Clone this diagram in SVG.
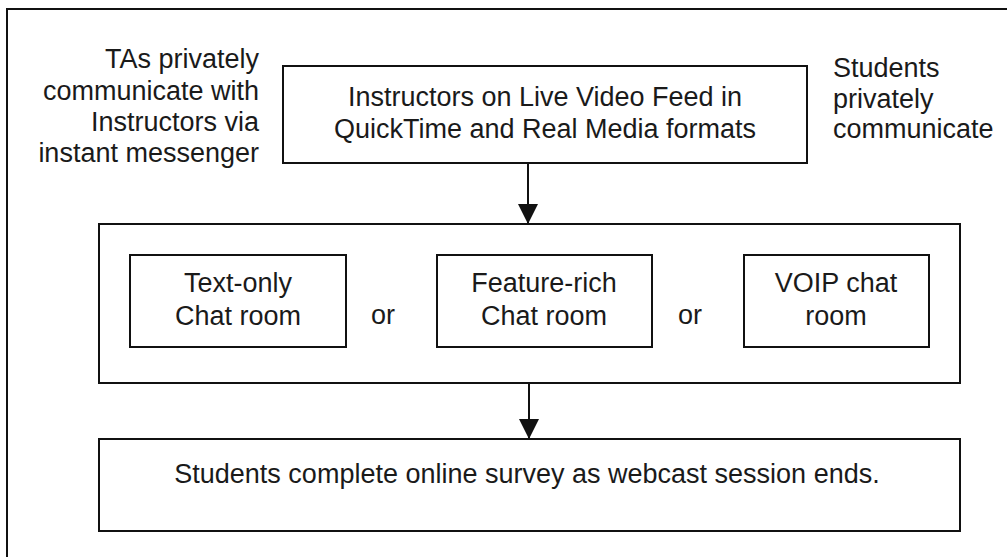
<svg xmlns="http://www.w3.org/2000/svg" width="1007" height="559" viewBox="0 0 1007 559">
<style>
.box{fill:#fff;stroke:#111;stroke-width:2}
.t{font-family:"Liberation Sans",Arial,sans-serif;font-size:27px;fill:#1a1a1a}
.c{text-anchor:middle}
.r{text-anchor:end}
.conn{stroke:#111;stroke-width:2;fill:none}
</style>
<defs>
<marker id="ah" markerUnits="userSpaceOnUse" markerWidth="20" markerHeight="20" refX="20" refY="10" orient="auto">
<path d="M0,0 L20,10 L0,20 Z" fill="#111"/>
</marker>
</defs>
<rect width="1007" height="559" fill="#fff"/>
<g id="frame"><path d="M7,557 L7,9 L1007,9" class="conn"/></g>
<g id="tas-note">
<text class="t r" x="259" y="68">TAs privately</text>
<text class="t r" x="259" y="100">communicate with</text>
<text class="t r" x="259" y="131">Instructors via</text>
<text class="t r" x="259" y="162">instant messenger</text>
</g>
<g id="students-note">
<text class="t" x="833" y="77">Students</text>
<text class="t" x="833" y="108">privately</text>
<text class="t" x="833" y="138">communicate</text>
</g>
<g id="video">
<rect class="box" x="283" y="66" width="524" height="97"/>
<text class="t c" x="545" y="106">Instructors on Live Video Feed in</text>
<text class="t c" x="545" y="138">QuickTime and Real Media formats</text>
</g>
<g id="chat-group">
<rect class="box" x="99" y="224" width="861" height="159"/>
</g>
<g id="text-only">
<rect class="box" x="130" y="255" width="216" height="92"/>
<text class="t c" x="238" y="292">Text-only</text>
<text class="t c" x="238" y="325">Chat room</text>
</g>
<g id="or1"><text class="t c" x="383" y="324">or</text></g>
<g id="feature-rich">
<rect class="box" x="437" y="255" width="215" height="92"/>
<text class="t c" x="544" y="292">Feature-rich</text>
<text class="t c" x="544" y="325">Chat room</text>
</g>
<g id="or2"><text class="t c" x="690" y="324">or</text></g>
<g id="voip">
<rect class="box" x="744" y="255" width="185" height="92"/>
<text class="t c" x="836" y="292">VOIP chat</text>
<text class="t c" x="836" y="325">room</text>
</g>
<g id="survey">
<rect class="box" x="99" y="439" width="861" height="92"/>
<text class="t c" x="527" y="483">Students complete online survey as webcast session ends.</text>
</g>
<g id="connectors">
<line class="conn" x1="528" y1="163" x2="528" y2="224" marker-end="url(#ah)"/>
<line class="conn" x1="529" y1="383" x2="529" y2="439" marker-end="url(#ah)"/>
</g>
</svg>
